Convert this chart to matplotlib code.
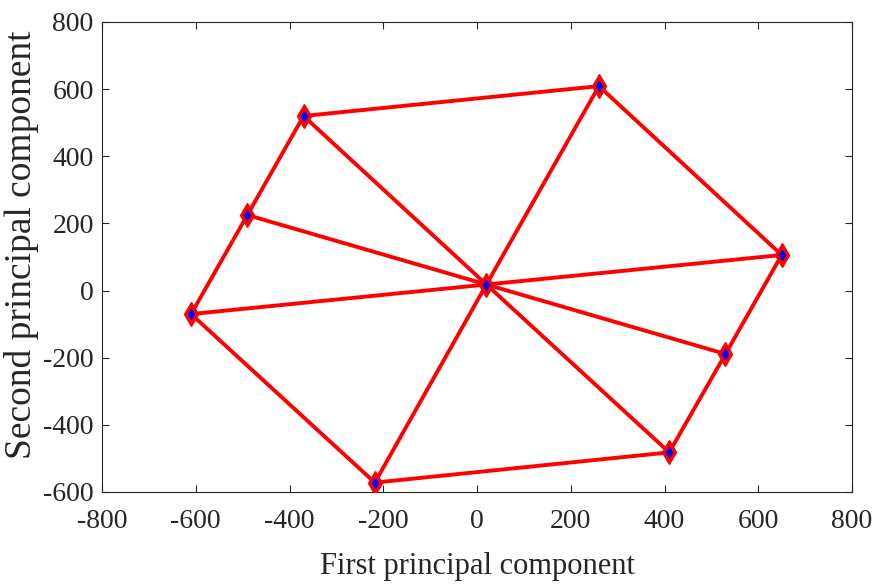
import matplotlib
matplotlib.use("Agg")
from matplotlib import pyplot as plt

plt.rcParams['font.family'] = ['Liberation Serif', 'DejaVu Serif']
plt.rcParams['axes.unicode_minus'] = False

# Data points (first / second principal component)
centre_x = 20
centre_y = 18
outer_x = [-370, 260, 650, 530, 410, -218, -610, -490]
outer_y = [520, 609, 106, -189, -482, -572, -70, 225]

fig = plt.figure(figsize=(8.78, 5.85), dpi=100)
ax = fig.add_axes([0.1162, 0.159, 0.8542, 0.8034])

# Hexagon-like outline
ring_x = outer_x + [outer_x[0]]
ring_y = outer_y + [outer_y[0]]
ax.plot(ring_x, ring_y, color='red', linewidth=2.8, zorder=2)

# Spokes to the centre
for x, y in zip(outer_x, outer_y):
    ax.plot([centre_x, x], [centre_y, y], color='red', linewidth=2.8, zorder=2)

all_x = outer_x + [centre_x]
all_y = outer_y + [centre_y]
ax.plot(all_x, all_y, linestyle='none', marker='d', markersize=12,
        color='red', zorder=3)
ax.plot(all_x, all_y, linestyle='none', marker='d', markersize=5.5,
        color='blue', zorder=4)

ax.set_xlim(-800, 800)
ax.set_ylim(-600, 800)
ax.set_xticks(range(-800, 801, 200))
ax.set_yticks(range(-600, 801, 200))
ax.tick_params(direction='in', length=5, labelsize=20, top=True, right=True,
               colors='#262626')
ax.tick_params(axis='x', pad=12)
ax.tick_params(axis='y', pad=6)
for s in ax.spines.values():
    s.set_color('#262626')
    s.set_linewidth(0.8)

ax.set_xlabel("First principal component", fontsize=22, color='#262626',
              labelpad=13)
ax.set_ylabel("Second principal component", fontsize=27, color='#262626',
              labelpad=3)
ax.yaxis.label.set_y(0.525)

fig.savefig("out.png", dpi=100)
